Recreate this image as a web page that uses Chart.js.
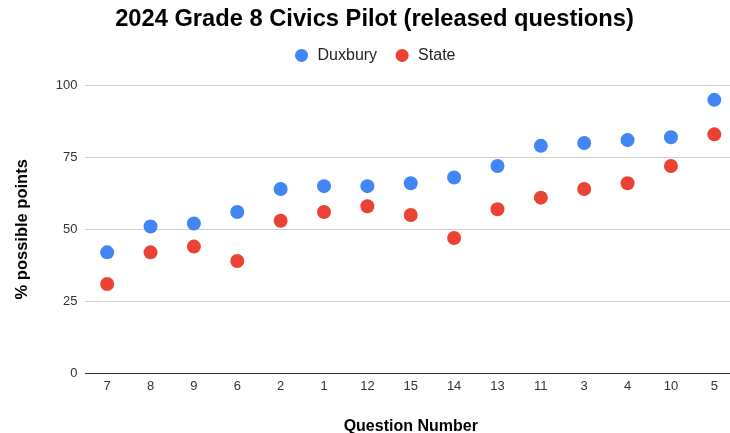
<!DOCTYPE html>
<html>
<head>
<meta charset="utf-8">
<script src="https://cdn.jsdelivr.net/npm/chart.js@4"></script>
<style>
html,body{margin:0;padding:0;overflow:hidden;background:#fff;width:730px;height:433px;}
#wrap{width:738px;height:433px;position:relative;}
#c{display:block;width:738px;height:433px;}
</style>
</head>
<body>
<div id="wrap"><canvas id="c" width="738" height="433" style="width:738px;height:433px"></canvas></div>
<script>
const categories = ["7","8","9","6","2","1","12","15","14","13","11","3","4","10","5"];
const duxbury = [42,51,52,56,64,65,65,66,68,72,79,80,81,82,95];
const state = [31,42,44,39,53,56,58,55,47,57,61,64,66,72,83];
const yTicks = [0,25,50,75,100];

const FONT = "'Liberation Sans', Arial, sans-serif";
Chart.defaults.font.family = FONT;

const legendGap = {
  id:'legendGap',
  beforeInit(chart){
    const fit = chart.legend.fit;
    chart.legend.fit = function(){ fit.bind(chart.legend)(); this.height += 12; };
  }
};

new Chart(document.getElementById('c'), {
  type: 'line',
  data: {
    labels: categories,
    datasets: [
      {label:'Duxbury', data: duxbury, showLine:false, backgroundColor:'#4285f4', borderColor:'#4285f4', pointRadius:7, pointHoverRadius:7, pointBorderWidth:0},
      {label:'State', data: state, showLine:false, backgroundColor:'#ea4335', borderColor:'#ea4335', pointRadius:7, pointHoverRadius:7, pointBorderWidth:0}
    ]
  },
  plugins:[legendGap],
  options: {
    responsive:false,
    animation:false,
    layout:{autoPadding:false, padding:{left:13,right:2,top:5,bottom:-3}},
    plugins:{
      title:{display:true, text:'2024 Grade 8 Civics Pilot (released questions)', color:'#000', font:{size:23.7,weight:'bold',family:FONT}, padding:{top:0,bottom:-3}},
      legend:{display:true, labels:{usePointStyle:true, pointStyle:'circle', boxWidth:20, boxHeight:9.2, color:'#222', font:{size:16,family:FONT}, padding:17}},
      tooltip:{enabled:false}
    },
    scales:{
      x:{
        offset:true,
        grid:{display:false, drawTicks:false},
        border:{display:true, color:'#333', width:1},
        ticks:{color:'#333', font:{size:13}, padding:5},
        title:{display:true, text:'Question Number', color:'#000', font:{size:16,weight:'bold'}, padding:{top:18,bottom:0}}
      },
      y:{
        min:0, max:100,
        afterBuildTicks:(s)=>{s.ticks = yTicks.map(v=>({value:v}));},
        grid:{color:(ctx)=>ctx.tick && ctx.tick.value===0 ? '#333' : '#d0d0d0', drawTicks:false},
        border:{display:false},
        ticks:{color:'#333', font:{size:13}, padding:8},
        title:{display:true, text:'% possible points', color:'#000', font:{size:16.5,weight:'bold'}, padding:{top:0,bottom:15}}
      }
    }
  }
});
</script>
</body>
</html>
